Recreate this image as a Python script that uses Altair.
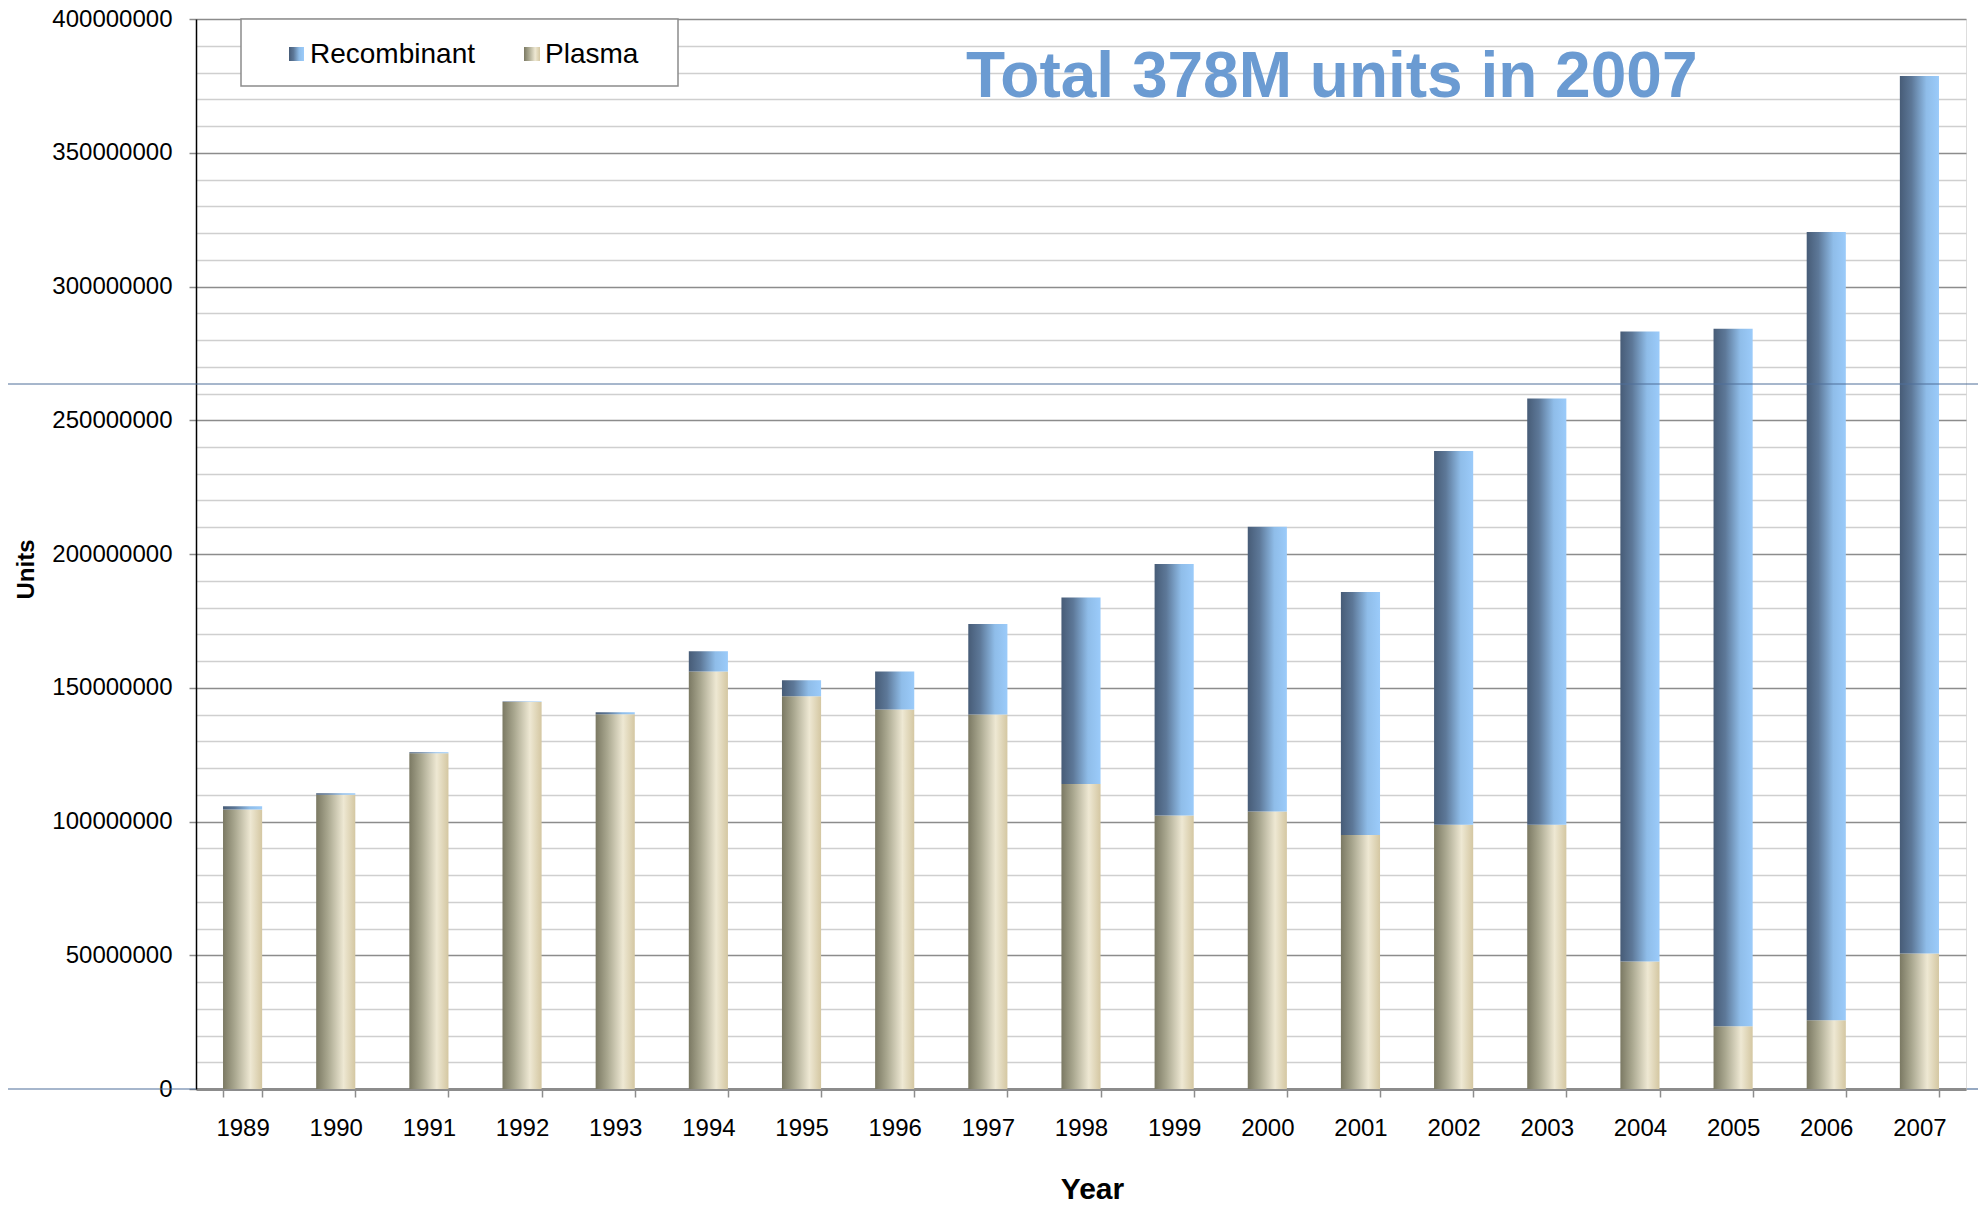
import altair as alt
import pandas as pd

# ---- data (units) ----
years = ["1989", "1990", "1991", "1992", "1993", "1994", "1995", "1996", "1997", "1998",
         "1999", "2000", "2001", "2002", "2003", "2004", "2005", "2006", "2007"]
plasma = [104.5e6, 110.0e6, 125.5e6, 144.7e6, 140.1e6, 156.1e6, 146.8e6, 141.9e6, 140.0e6, 114.0e6,
          102.2e6, 103.7e6, 95.0e6, 98.8e6, 98.8e6, 47.7e6, 23.5e6, 25.7e6, 50.7e6]
recombinant = [1.2e6, 0.6e6, 0.4e6, 0.2e6, 0.7e6, 7.5e6, 6.0e6, 14.2e6, 33.8e6, 69.7e6,
               94.1e6, 106.5e6, 90.8e6, 139.7e6, 159.3e6, 235.5e6, 260.7e6, 294.7e6, 328.0e6]
series = ["Recombinant", "Plasma"]
title_text = "Total 378M units in 2007"
y_ticks = list(range(0, 400_000_001, 10_000_000))

df = pd.DataFrame({"Year": years, "Plasma": plasma, "Recombinant": recombinant})
df["Total"] = df["Plasma"] + df["Recombinant"]

W, H = 1770, 1070
FONT = "Liberation Sans"

rec_grad = alt.LinearGradient(
    gradient="linear", x1=0, x2=1, y1=0, y2=0,
    stops=[alt.GradientStop(color="#475c77", offset=0),
           alt.GradientStop(color="#5d7898", offset=0.3),
           alt.GradientStop(color="#8fbde9", offset=0.68),
           alt.GradientStop(color="#9bcbfa", offset=1)])
pla_grad = alt.LinearGradient(
    gradient="linear", x1=0, x2=1, y1=0, y2=0,
    stops=[alt.GradientStop(color="#7b7963", offset=0),
           alt.GradientStop(color="#a9a78f", offset=0.3),
           alt.GradientStop(color="#eee8d3", offset=0.7),
           alt.GradientStop(color="#d4c7a2", offset=1)])

x_enc = alt.X("Year:N", sort=years, title="Year",
              scale=alt.Scale(paddingInner=0.58, paddingOuter=0.29),
              axis=alt.Axis(labelAngle=0, labelFont=FONT, labelFontSize=24, labelColor="#000",
                            labelBaseline="middle", labelPadding=31,
                            tickBand="extent", tickSize=8, tickColor="#8c8c8c", tickWidth=1.5,
                            domainColor="#8c8c8c", domainWidth=3, grid=False,
                            titleFont=FONT, titleFontSize=30, titleFontWeight="bold", titleColor="#000",
                            titleX=896, titleY=100, titleAlign="center", titleBaseline="middle"))

y_scale = alt.Scale(domain=[0, 400_000_000], nice=False)
major = "datum.value % 50000000 === 0"
y_axis = alt.Axis(values=y_ticks, tickCount=100, format="d",
                  labelExpr=f"{major} ? datum.label : ''",
                  labelOverlap=False,
                  labelFont=FONT, labelFontSize=24, labelColor="#000", labelPadding=17,
                  tickSize=7, tickColor="#8c8c8c", tickWidth=1.5,
                  tickOpacity={"condition": {"test": major, "value": 1}, "value": 0},
                  domainColor="#000", domainWidth=1.5,
                  grid=True, gridWidth=1.5,
                  gridColor={"condition": {"test": major, "value": "#8c8c8c"}, "value": "#cfcfcf"},
                  titleFont=FONT, titleFontSize=24, titleFontWeight="bold", titleColor="#000",
                  titleAngle=270, titleX=-170, titleY=550, titleAlign="center", titleBaseline="middle")

plasma_bars = alt.Chart(df).mark_bar(fill=pla_grad).encode(
    x=x_enc,
    y=alt.Y("Plasma:Q", scale=y_scale, axis=y_axis, title="Units"),
)
rec_bars = alt.Chart(df).mark_bar(fill=rec_grad).encode(
    x=alt.X("Year:N", sort=years),
    y=alt.Y("Plasma:Q", scale=y_scale),
    y2="Total:Q",
)

one = pd.DataFrame({"k": [0]})

# decorative thin blue lines seen in the reference
blue_top = alt.Chart(one).mark_rule(color="#4f6f99", strokeWidth=1).encode(
    x=alt.value(-188), x2=alt.value(W + 12), y=alt.value(365))
blue_left = alt.Chart(one).mark_rule(color="#4f6f99", strokeWidth=1.2).encode(
    x=alt.value(-188), x2=alt.value(0), y=alt.value(H))
blue_right = alt.Chart(one).mark_rule(color="#4f6f99", strokeWidth=1.2).encode(
    x=alt.value(W + 1), x2=alt.value(W + 12), y=alt.value(H))

# legend (manual, to keep gradient swatches)
leg_box = alt.Chart(one).mark_rect(fill="white", stroke="#8c8c8c", strokeWidth=1.5).encode(
    x=alt.value(45), x2=alt.value(482), y=alt.value(0), y2=alt.value(67))
leg_sw_rec = alt.Chart(one).mark_rect(fill=rec_grad).encode(
    x=alt.value(93), x2=alt.value(108), y=alt.value(28), y2=alt.value(42))
leg_sw_pla = alt.Chart(one).mark_rect(fill=pla_grad).encode(
    x=alt.value(328), x2=alt.value(344), y=alt.value(28), y2=alt.value(42))
leg_txt_rec = alt.Chart(pd.DataFrame({"s": [series[0]]})).mark_text(
    font=FONT, fontSize=28, align="left", baseline="alphabetic", color="#000").encode(
    text="s:N", x=alt.value(114), y=alt.value(44))
leg_txt_pla = alt.Chart(pd.DataFrame({"s": [series[1]]})).mark_text(
    font=FONT, fontSize=28, align="left", baseline="alphabetic", color="#000").encode(
    text="s:N", x=alt.value(349), y=alt.value(44))

title = alt.Chart(pd.DataFrame({"t": [title_text]})).mark_text(
    font=FONT, fontSize=64, fontWeight="bold", align="left", baseline="alphabetic",
    color="#6b9bd2").encode(text="t:N", x=alt.value(770), y=alt.value(78))

chart = alt.layer(
    plasma_bars, rec_bars, blue_top, blue_left, blue_right,
    leg_box, leg_sw_rec, leg_sw_pla, leg_txt_rec, leg_txt_pla, title
).properties(
    width=W, height=H,
    autosize=alt.AutoSizeParams(type="none"),
    padding={"left": 188, "top": 11, "right": 12, "bottom": 115},
).configure_view(stroke="#9a9a9a", strokeWidth=2.5
).configure(background="white")

chart.save("out.html", embed_options={"renderer": "svg", "actions": False})
